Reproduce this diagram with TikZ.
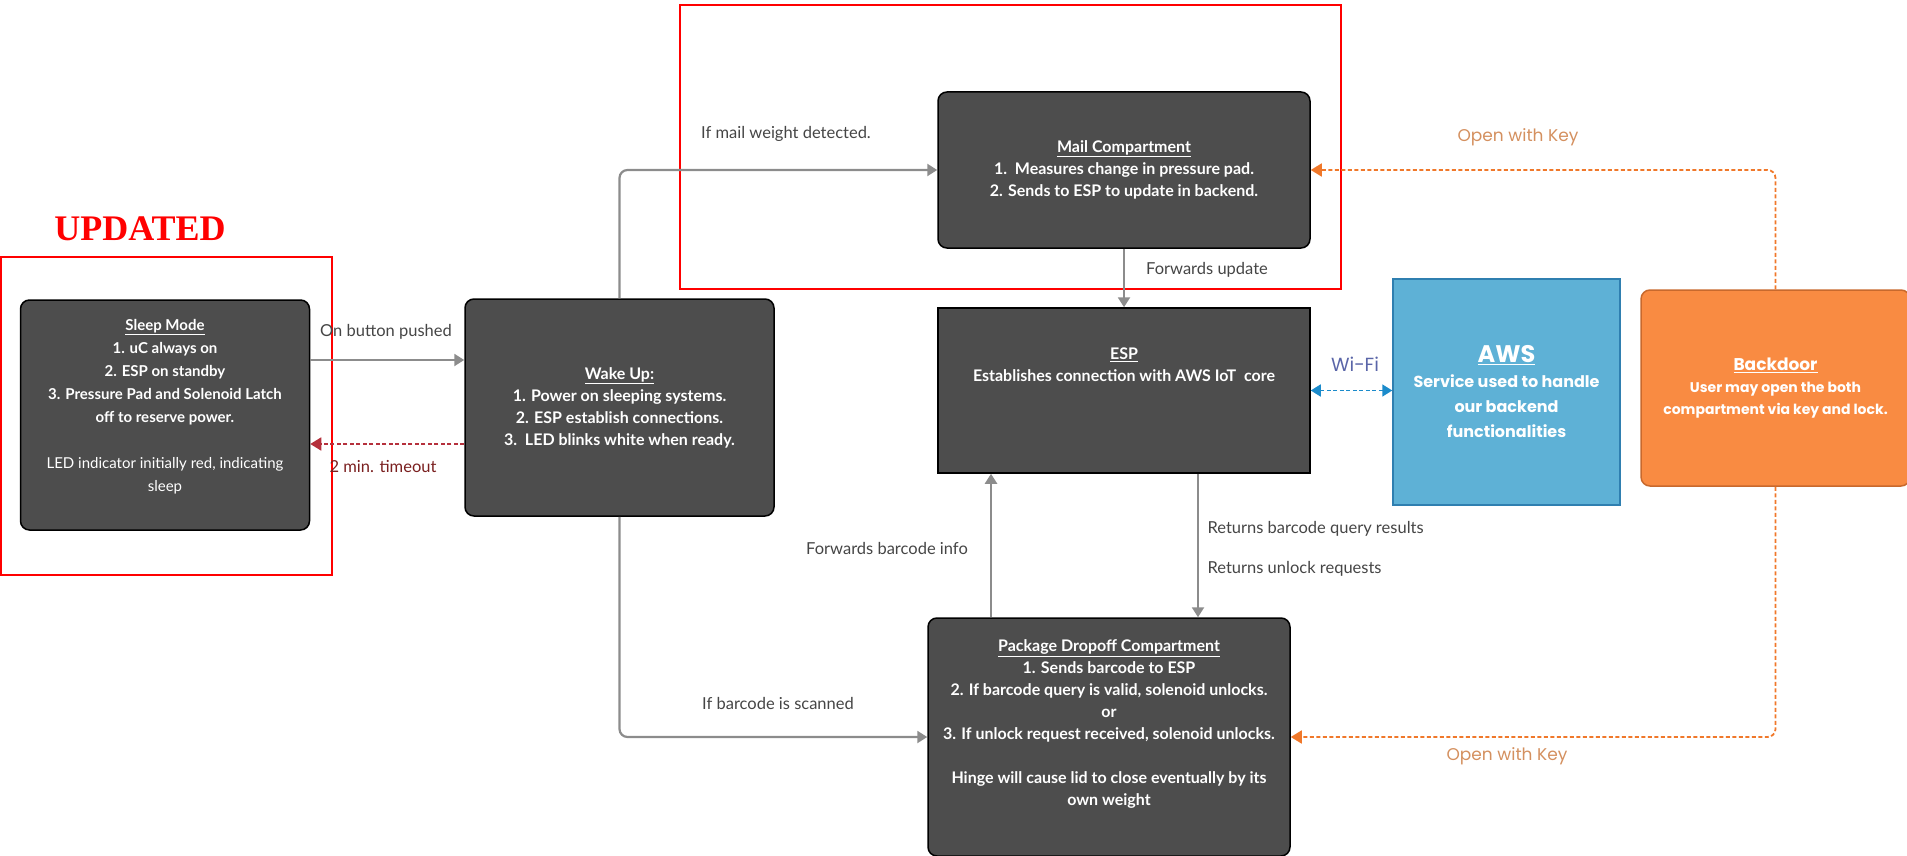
\documentclass[tikz,border=0pt]{standalone}
\usepackage{fontspec}
\setmainfont{Lato}
\newfontfamily\popfont{Poppins}
\newfontfamily\timesfont{Liberation Serif}
\usetikzlibrary{calc, positioning, arrows.meta}

\definecolor{boxgray}{HTML}{4D4D4D}
\definecolor{arrowgray}{HTML}{8C8C8C}
\definecolor{labelgray}{HTML}{454545}
\definecolor{awsblue}{HTML}{5EB1D6}
\definecolor{awsborder}{HTML}{2F7FB0}
\definecolor{bdorange}{HTML}{F98B42}
\definecolor{bdborder}{HTML}{C8692D}
\definecolor{timeoutred}{HTML}{B5303C}
\definecolor{timeouttext}{HTML}{7A1F1F}
\definecolor{keyorange}{HTML}{F0782A}
\definecolor{keytext}{HTML}{D4905F}
\definecolor{wifiblue}{HTML}{1B8BCB}
\definecolor{wifitext}{HTML}{5A65A8}

\begin{document}
\begin{tikzpicture}[x=1pt, y=-1pt,
  state/.style={draw=black, line width=1.5pt, fill=boxgray, rounded corners=9pt, text=white,
    align=center, inner sep=0pt, font=\fontsize{16}{22}\selectfont\bfseries},
  flow/.style={draw=arrowgray, line width=2.2pt, rounded corners=8pt, -{Triangle[width=12pt,length=10pt]}},
  timeout/.style={draw=timeoutred, line width=1.8pt, dash pattern=on 4pt off 2.5pt, -{Triangle[width=13pt,length=11pt]}},
  keyline/.style={draw=keyorange, line width=1.8pt, dash pattern=on 4pt off 2.5pt, rounded corners=8pt, -{Triangle[width=13pt,length=11pt]}},
  wifi/.style={draw=wifiblue, line width=1.8pt, dash pattern=on 4pt off 2.5pt, {Triangle[width=12pt,length=10pt]}-{Triangle[width=12pt,length=10pt]}},
  edgelabel/.style={text=labelgray, font=\fontsize{16.5}{20}\selectfont},
  keylabel/.style={text=keytext, font=\popfont\fontsize{17}{20}\selectfont},
  updatebox/.style={draw=red, line width=1.6pt}]

\useasboundingbox (0,0) rectangle (1907,856);

% Red markers for the updated parts
\draw[updatebox] (1,257) rectangle (332,575);
\draw[updatebox] (680,5) rectangle (1341,289);
\node[text=red, font=\timesfont\bfseries\fontsize{36}{40}\selectfont] (updated) at (140,229) {UPDATED};

% States
\node[state, font=\fontsize{15}{23}\selectfont\bfseries, minimum width=289pt, minimum height=230pt] (sleep) at (165,415)
  {\underline{Sleep Mode}\\1. uC always on\\2. ESP on standby\\3. Pressure Pad and Solenoid Latch\\off to reserve power.\\[23pt]
   \mdseries LED indicator initially red, indicating\\\mdseries sleep\\[-3pt]\mbox{}};
\node[state, minimum width=309pt, minimum height=217pt] (wake) at (619.5,407.5)
  {\underline{Wake Up:}\\1. Power on sleeping systems.\\2. ESP establish connections.\\3.\ \ LED blinks white when ready.};
\node[state, minimum width=372pt, minimum height=156pt] (mail) at (1124,170)
  {\underline{Mail Compartment}\\1.\ \ Measures change in pressure pad.\\2. Sends to ESP to update in backend.};
\node[state, rounded corners=0pt, minimum width=372pt, minimum height=165pt] (esp) at (1124,390.5)
  {\underline{ESP}\\Establishes connection with AWS IoT\ \ core\\[30pt]\mbox{}};
\node[state, minimum width=362pt, minimum height=238pt] (pkg) at (1109,737)
  {\underline{Package Dropoff Compartment}\\1. Sends barcode to ESP\\2. If barcode query is valid, solenoid unlocks.\\or\\3. If unlock request received, solenoid unlocks.\\[22pt]
   Hinge will cause lid to close eventually by its\\own weight\\[6pt]\mbox{}};
\node[draw=awsborder, line width=1.5pt, fill=awsblue, text=white, align=center, inner sep=0pt,
  font=\popfont\bfseries\fontsize{16}{25}\selectfont, minimum width=227pt, minimum height=226pt] (aws) at (1506.5,392)
  {{\fontsize{24}{30}\selectfont\underline{AWS}}\\Service used to handle\\our backend\\functionalities};
\node[draw=bdborder, line width=1.5pt, fill=bdorange, rounded corners=9pt, text=white, align=center, inner sep=0pt,
  font=\popfont\bfseries\fontsize{14}{22}\selectfont, minimum width=269pt, minimum height=196pt] (backdoor) at (1775.5,388)
  {{\fontsize{17}{22}\selectfont\underline{Backdoor}}\\User may open the both\\compartment via key and lock.};

% Sleep <-> Wake Up
\draw[flow] ([yshift=55pt]sleep.east) -- ([yshift=55pt]sleep.east -| wake.west);
\draw[timeout] ([yshift=-29pt]sleep.east -| wake.west) -- ([yshift=-29pt]sleep.east);
\node[edgelabel] (pushlbl) at (386,332) {On button pushed};
\node[edgelabel, text=timeouttext] (timeoutlbl) at (383,467) {2 min. timeout};

% Wake Up -> compartments
\draw[flow] (wake.north) |- (mail.west);
\draw[flow] (wake.south) |- (pkg.west);
\node[edgelabel] (weightlbl) at (786,134) {If mail weight detected.};
\node[edgelabel] (scanlbl) at (778,703) {If barcode is scanned};

% Compartments <-> ESP
\coordinate (upx) at (991,0);
\coordinate (downx) at (1198,0);
\draw[flow] (mail.south) -- (esp.north);
\draw[flow] (pkg.north -| upx) -- (esp.south -| upx);
\draw[flow] (esp.south -| downx) -- (pkg.north -| downx);
\node[edgelabel] (updatelbl) at (1207,270) {Forwards update};
\node[edgelabel] (barcodelbl) at (887,548) {Forwards barcode info};
\node[edgelabel, anchor=west] (resultlbl) at (1204,529) {Returns barcode query results};
\node[edgelabel, anchor=west] (unlocklbl) at (1204,569) {Returns unlock requests};

% ESP <-> AWS
\draw[wifi] (esp.east) -- (esp.east -| aws.west);
\node[text=wifitext, font=\popfont\fontsize{19}{22}\selectfont] (wifilbl) at (1355,364) {Wi-Fi};

% Backdoor -> compartments
\draw[keyline] (backdoor.north) |- (mail.east);
\draw[keyline] (backdoor.south) |- (pkg.east);
\node[keylabel] (keytop) at (1518,137) {Open with Key};
\node[keylabel] (keybottom) at (1507,756) {Open with Key};

\end{tikzpicture}
\end{document}
